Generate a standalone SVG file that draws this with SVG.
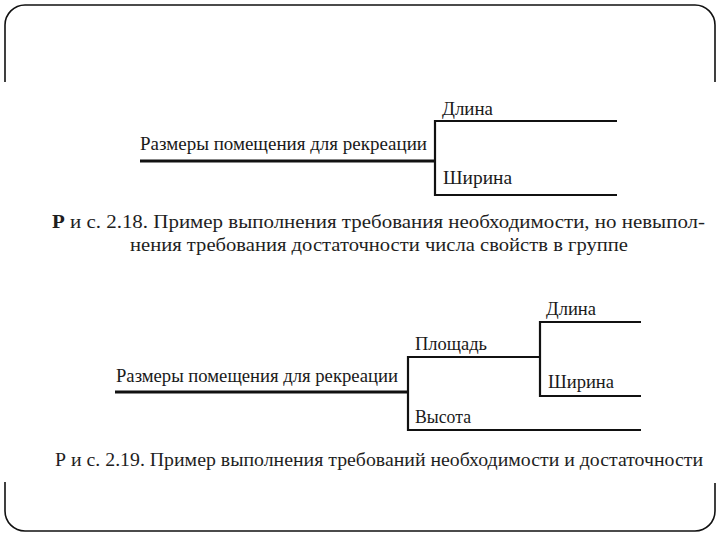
<svg xmlns="http://www.w3.org/2000/svg" width="720" height="540" viewBox="0 0 720 540">
<style>
.bg{fill:#ffffff}
.frame{fill:none;stroke:#111;stroke-width:1.6}
text{font-family:'Liberation Serif','Times New Roman','DejaVu Serif',serif}
.lbl{font-size:19px;fill:#1a1a1a}
.cap{fill:#1e1e1e}
.thick{stroke:#111;stroke-width:3;fill:none}
.edge{stroke:#111;stroke-width:2.2;fill:none}
</style>
<rect class="bg" x="0" y="0" width="720" height="540"/>
<g id="frame">
<path class="frame" d="M5,82 V25 A20,20 0 0 1 25,5 H695 A20,20 0 0 1 715,25 V82"/>
<path class="frame" d="M5,482 V511 A20,20 0 0 0 25,531 H695 A20,20 0 0 0 715,511 V483"/>
</g>
<g id="connectors">
<line class="thick" x1="140" y1="161" x2="435" y2="161"/>
<line class="edge" x1="435" y1="120" x2="435" y2="196"/>
<line class="edge" x1="434" y1="121" x2="617" y2="121"/>
<line class="edge" x1="434" y1="195" x2="617" y2="195"/>
<line class="thick" x1="115" y1="392" x2="409" y2="392"/>
<line class="edge" x1="408" y1="356" x2="408" y2="431"/>
<line class="edge" x1="407" y1="357" x2="541" y2="357"/>
<line class="edge" x1="407" y1="430" x2="641" y2="430"/>
<line class="edge" x1="540" y1="321" x2="540" y2="397"/>
<line class="edge" x1="539" y1="322" x2="641" y2="322"/>
<line class="edge" x1="539" y1="396" x2="641" y2="396"/>
</g>
<g id="fig218-root"><text class="lbl" x="140" y="150" textLength="287" lengthAdjust="spacingAndGlyphs">Размеры помещения для рекреации</text></g>
<g id="fig218-length"><text class="lbl" x="442" y="115" textLength="51" lengthAdjust="spacingAndGlyphs">Длина</text></g>
<g id="fig218-width"><text class="lbl" x="443" y="184" textLength="69" lengthAdjust="spacingAndGlyphs">Ширина</text></g>
<g id="fig218-caption">
<text class="cap" font-size="18" x="52" y="228" textLength="653" lengthAdjust="spacingAndGlyphs"><tspan font-weight="bold">Р</tspan> и с. 2.18. Пример выполнения требования необходимости, но невыпол-</text>
<text class="cap" font-size="18" x="130" y="251" textLength="498" lengthAdjust="spacingAndGlyphs">нения требования достаточности числа свойств в группе</text>
</g>
<g id="fig219-root"><text class="lbl" x="116" y="382" textLength="282" lengthAdjust="spacingAndGlyphs">Размеры помещения для рекреации</text></g>
<g id="fig219-area"><text class="lbl" x="415" y="350" textLength="72" lengthAdjust="spacingAndGlyphs">Площадь</text></g>
<g id="fig219-height"><text class="lbl" x="415" y="423" textLength="56" lengthAdjust="spacingAndGlyphs">Высота</text></g>
<g id="fig219-length"><text class="lbl" x="546" y="315" textLength="50" lengthAdjust="spacingAndGlyphs">Длина</text></g>
<g id="fig219-width"><text class="lbl" x="548" y="388" textLength="66" lengthAdjust="spacingAndGlyphs">Ширина</text></g>
<g id="fig219-caption">
<text class="cap" font-size="19.5" x="55" y="466" textLength="648" lengthAdjust="spacingAndGlyphs">Р и с. 2.19. Пример выполнения требований необходимости и достаточности</text>
</g>
</svg>
